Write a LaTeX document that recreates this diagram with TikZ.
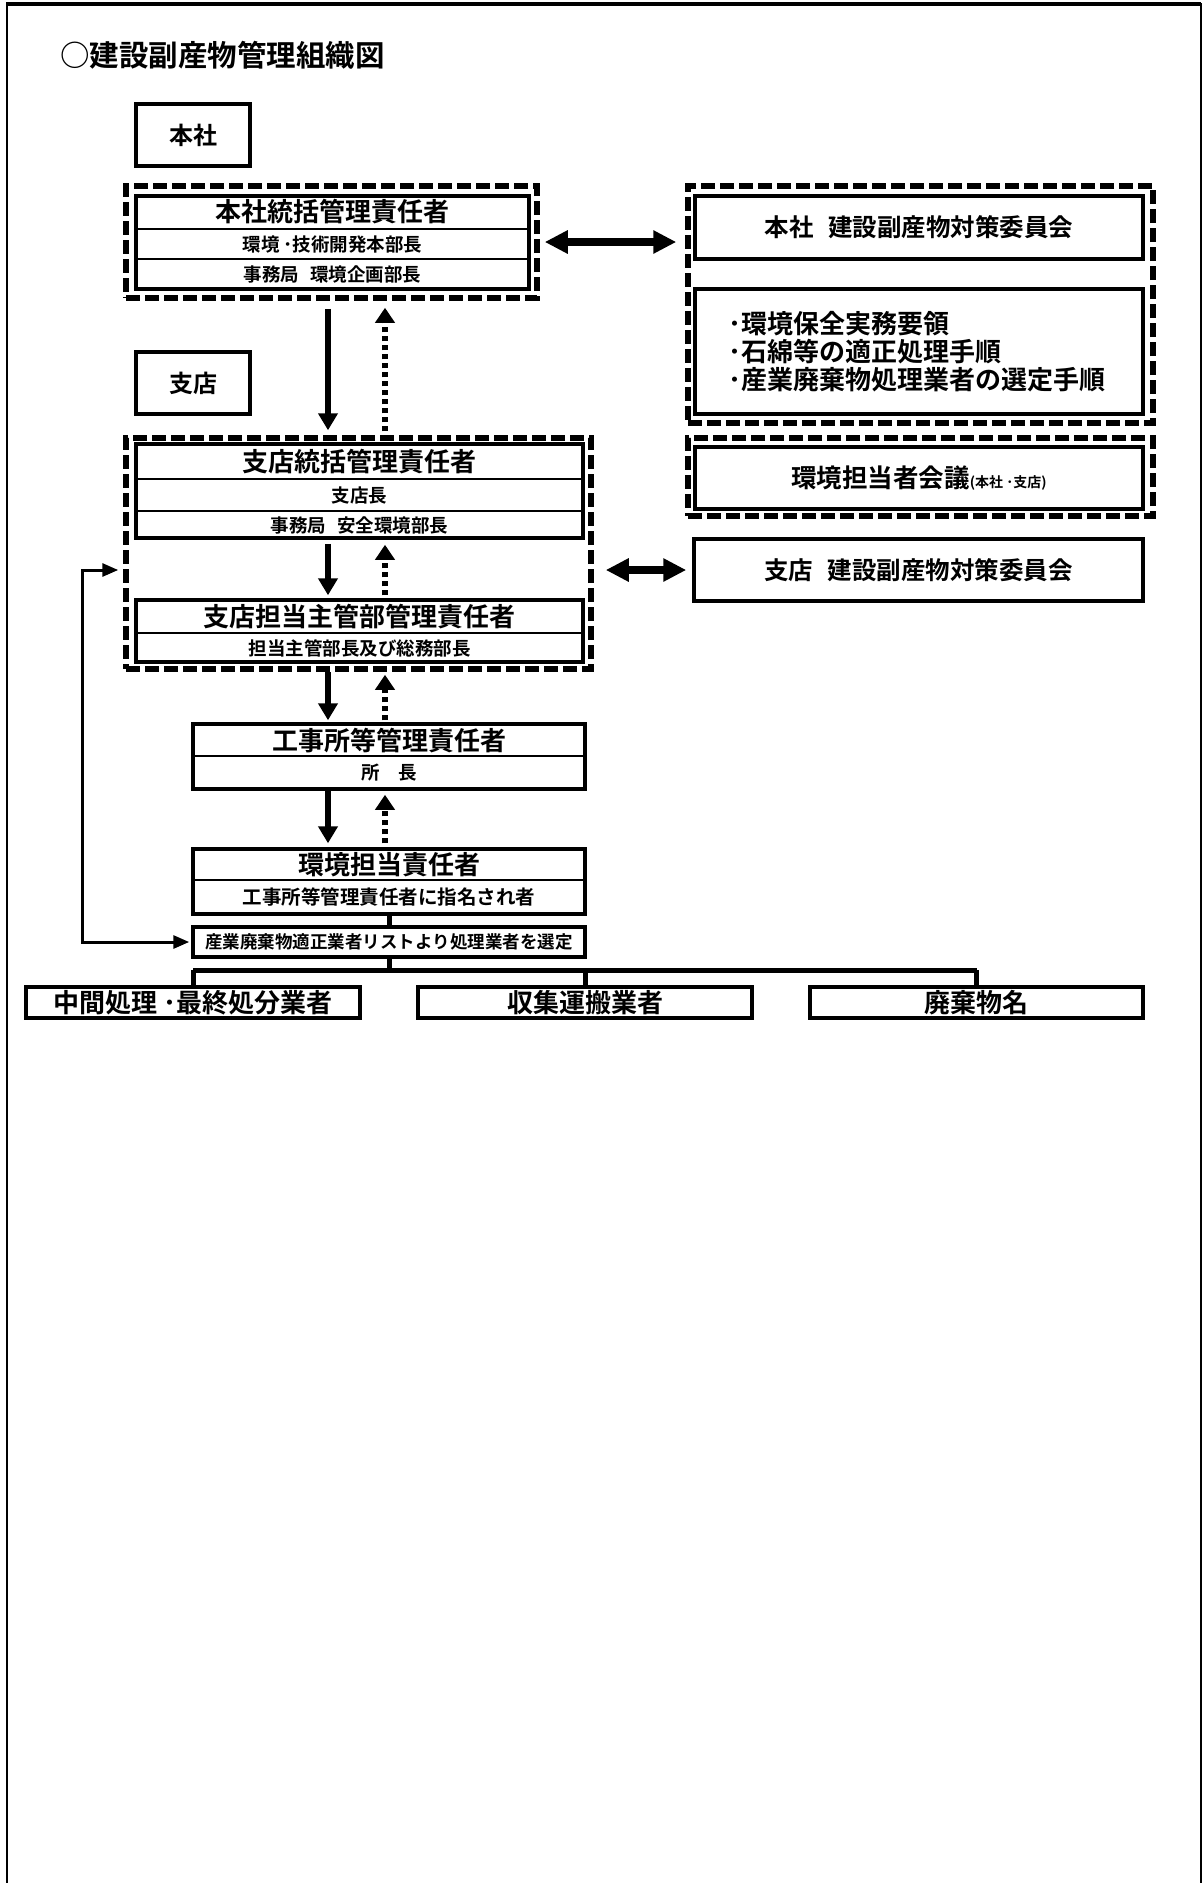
\documentclass[tikz,border=0pt]{standalone}
\usepackage{fontspec}
\setmainfont{Noto Sans CJK JP}[BoldFont={Noto Sans CJK JP Bold}]
\usetikzlibrary{arrows.meta}
\newcommand\jfs[1]{\fontsize{#1pt}{#1pt}\selectfont\bfseries}
\newcommand\jgap{\hspace{0.6em}}
\begin{document}
\begin{tikzpicture}[x=1pt,y=-1pt,
  bx/.style={draw, line width=3.5pt, inner sep=0pt, rectangle},
  grp/.style={draw, line width=5.5pt, dash pattern=on 14pt off 5pt, inner sep=0pt, rectangle},
  txt/.style={inner sep=0pt},
  divl/.style={line width=2pt},
  sarr/.style={line width=5.5pt, -{Triangle[length=17pt,width=19pt]}},
  darr/.style={line width=5.5pt, dash pattern=on 5pt off 4pt, -{Triangle[length=15pt,width=19pt]}},
  dbl/.style={line width=8pt, {Triangle[length=23pt,width=22pt]}-{Triangle[length=23pt,width=22pt]}},
  fb/.style={line width=3pt, {Triangle[length=16pt,width=13pt]}-{Triangle[length=16pt,width=13pt]}},
  conn/.style={line width=5pt}
]
\useasboundingbox (0,0) rectangle (1203,1883);
% page frame
\draw[line width=4pt] (6,4) -- (1201,4);
\draw[line width=2.5pt] (7,3) -- (7,1883);
\draw[line width=2pt] (1201,3) -- (1201,1883);

% title
\node[txt, anchor=west, font=\jfs{29.5}] (title) at (60,55) {○建設副産物管理組織図};

% labels
\node[bx, minimum width=114pt, minimum height=62pt, font=\jfs{24}] (lblhq) at (193,135) {本社};
\node[bx, minimum width=114pt, minimum height=62pt, font=\jfs{24}] (lblbr) at (193,383) {支店};

% head office group
\node[grp, minimum width=411pt, minimum height=112pt] (hqg) at (331.5,242) {};
\node[bx, minimum width=393pt, minimum height=93pt] (hq) at (332.5,242.5) {};
\draw[divl] (136,229) -- (529,229);
\draw[divl] (136,259) -- (529,259);
\node[txt, font=\jfs{26}] (hqt) at (332.5,212) {本社統括管理責任者};
\node[txt, font=\jfs{18.5}] (hqa) at (332.5,244) {環境 ･技術開発本部長};
\node[txt, font=\jfs{18.5}] (hqb) at (332.5,274.5) {事務局\jgap 環境企画部長};

% head office committee group
\node[grp, minimum width=465pt, minimum height=237pt] (hqcg) at (920.5,304.5) {};
\node[bx, minimum width=448pt, minimum height=63pt, font=\jfs{24.5}] (hqc1) at (919,227.5) {本社\jgap 建設副産物対策委員会};
\node[bx, minimum width=448pt, minimum height=125pt] (hqc2) at (919,351.5) {};
\node[txt, anchor=west, align=left, font=\fontsize{26pt}{28pt}\selectfont\bfseries] (docs) at (728,352)
  {･環境保全実務要領\\･石綿等の適正処理手順\\･産業廃棄物処理業者の選定手順};

% environment meeting
\node[grp, minimum width=465pt, minimum height=78pt] (ecmg) at (920.5,477) {};
\node[bx, minimum width=448pt, minimum height=62pt] (ecm) at (919,478) {};
\node[txt] (ecmt) at (919,478) {{\jfs{25.5}環境担当者会議}{\jfs{14}(本社 ･支店)}};

% branch committee
\node[bx, minimum width=449pt, minimum height=62pt, font=\jfs{24.5}] (brc) at (918.5,570) {支店\jgap 建設副産物対策委員会};

% branch group
\node[grp, minimum width=465pt, minimum height=231pt] (brg) at (358.5,553.5) {};
\node[bx, minimum width=447pt, minimum height=94pt] (br1) at (359.5,491) {};
\draw[divl] (136,479) -- (583,479);
\draw[divl] (136,511) -- (583,511);
\node[txt, font=\jfs{26}] (br1t) at (359.5,461.5) {支店統括管理責任者};
\node[txt, font=\jfs{18.5}] (br1a) at (359.5,495) {支店長};
\node[txt, font=\jfs{18.5}] (br1b) at (359.5,525) {事務局\jgap 安全環境部長};
\node[bx, minimum width=447pt, minimum height=62pt] (br2) at (359.5,631) {};
\draw[divl] (136,633) -- (583,633);
\node[txt, font=\jfs{26}] (br2t) at (359.5,616.5) {支店担当主管部管理責任者};
\node[txt, font=\jfs{18.5}] (br2a) at (359.5,648) {担当主管部長及び総務部長};

% site
\node[bx, minimum width=392pt, minimum height=65pt] (site) at (389,756.5) {};
\draw[divl] (193,756) -- (585,756);
\node[txt, font=\jfs{26}] (sitet) at (389,740.5) {工事所等管理責任者};
\node[txt, font=\jfs{18.5}] (sitea) at (389,773) {所　長};

% env responsible
\node[bx, minimum width=392pt, minimum height=65pt] (env) at (389,881.5) {};
\draw[divl] (193,880) -- (585,880);
\node[txt, font=\jfs{26}] (envt) at (389,864.5) {環境担当責任者};
\node[txt, font=\jfs{19.5}] (enva) at (389,897.5) {工事所等管理責任者に指名され者};

% selection
\node[bx, minimum width=392pt, minimum height=30pt, font=\jfs{17.5}] (sel) at (389,942) {産業廃棄物適正業者リストより処理業者を選定};

% bottom boxes
\node[bx, minimum width=334pt, minimum height=31pt, font=\jfs{26}] (b1) at (193,1002.5) {中間処理 ･最終処分業者};
\node[bx, minimum width=334pt, minimum height=31pt, font=\jfs{26}] (b2) at (585,1002.5) {収集運搬業者};
\node[bx, minimum width=333pt, minimum height=31pt, font=\jfs{26}] (b3) at (976.5,1002.5) {廃棄物名};

% helper x positions
\coordinate (xL) at (328,0);
\coordinate (xR) at (385,0);
\coordinate (xC) at (389,0);
\coordinate (bus) at (389,970);
\coordinate (fbc) at (82,570);

% vertical arrows
\draw[sarr, shorten <=8pt, shorten >=5pt] (hqg.south -| xL) -- (brg.north -| xL);
\draw[darr, shorten <=4pt, shorten >=7pt] (brg.north -| xR) -- (hqg.south -| xR);
\draw[sarr, shorten <=4pt, shorten >=3pt] (br1.south -| xL) -- (br2.north -| xL);
\draw[darr, shorten <=3pt, shorten >=5pt] (br2.north -| xR) -- (br1.south -| xR);
\draw[sarr, shorten >=2pt] (brg.south -| xL) -- (site.north -| xL);
\draw[darr, shorten <=2pt, shorten >=3pt] (site.north -| xR) -- (brg.south -| xR);
\draw[sarr, shorten >=4pt] (site.south -| xL) -- (env.north -| xL);
\draw[darr, shorten <=4pt, shorten >=4pt] (env.north -| xR) -- (site.south -| xR);

% double arrows
\draw[dbl, shorten <=5pt, shorten >=9pt] (hqg.east) -- (hqg.east -| hqcg.west);
\draw[dbl, shorten <=12pt, shorten >=6pt] (brg.east |- brc.west) -- (brc.west);

% feedback
\draw[fb, shorten <=5pt, shorten >=2pt] (brg.west |- fbc) -- (fbc) -- (fbc |- sel.west) -- (sel.west);

% connectors to contractors
\draw[conn] (env.south -| xC) -- (sel.north -| xC);
\draw[conn] (sel.south -| xC) -- (bus);
\draw[conn] (b1.north |- bus) -- (b3.north |- bus);
\draw[conn] (b1.north |- bus) -- (b1.north);
\draw[conn] (b2.north |- bus) -- (b2.north);
\draw[conn] (b3.north |- bus) -- (b3.north);
\end{tikzpicture}
\end{document}
